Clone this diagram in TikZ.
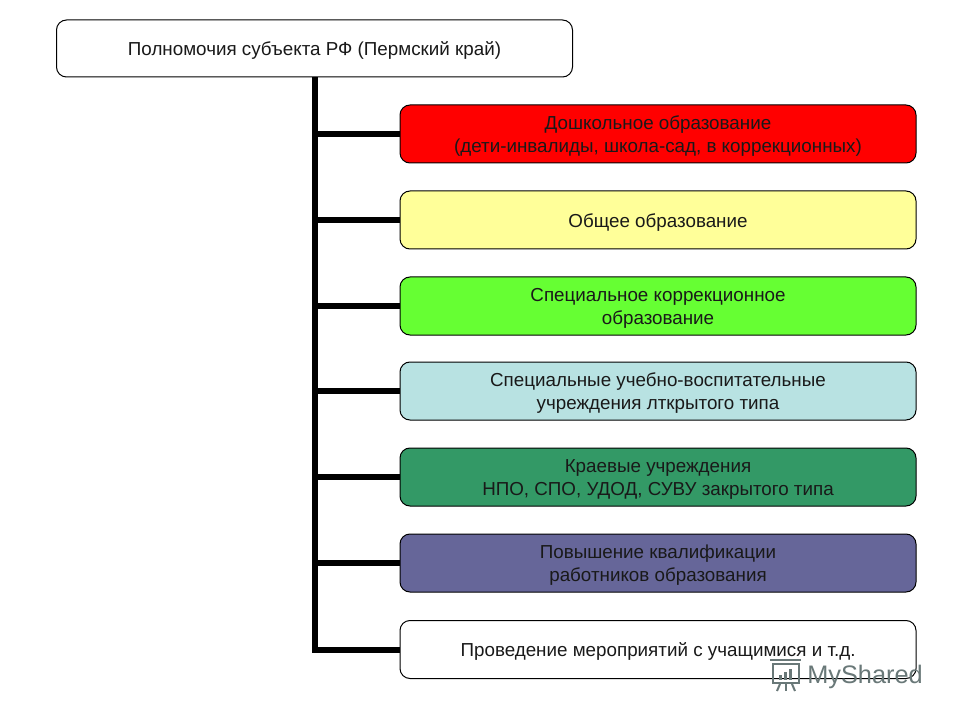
\documentclass[tikz,border=0pt]{standalone}
\usepackage{fontspec}
\setmainfont{Liberation Sans}
\definecolor{cred}{RGB}{255,0,0}
\definecolor{cyellow}{RGB}{255,255,153}
\definecolor{cgreen}{RGB}{102,255,51}
\definecolor{cteal}{RGB}{184,226,226}
\definecolor{cdkgreen}{RGB}{51,153,102}
\definecolor{cpurple}{RGB}{102,102,153}
\definecolor{cwm}{RGB}{105,120,120}
\newcommand\topstrut{\rule{0pt}{14pt}}
\newcommand\botstrut{\rule[-3pt]{0pt}{3pt}}
\tikzset{
  x=0.75pt,y=-0.75pt,
  orgbox/.style={draw=black,line width=0.75pt,rounded corners=7.5pt,minimum width=387pt,minimum height=43.5pt,
    inner sep=0pt,align=center,font=\fontsize{14.1}{17.25}\selectfont,text=black!90,anchor=center},
  link/.style={line width=4.5pt,draw=black}
}
\begin{document}
\begin{tikzpicture}
\useasboundingbox (0,0) rectangle (960,720);
\fill[white] (0,0) rectangle (960,720);
\node[orgbox,minimum width=387pt,minimum height=42.75pt] (root) at (314.5,48.5) {\topstrut Полномочия субъекта РФ (Пермский край)\botstrut};
\node[orgbox,fill=cred] (b1) at (658,134) {\topstrut Дошкольное образование\\(дети-инвалиды, школа-сад, в коррекционных)\botstrut};
\node[orgbox,fill=cyellow] (b2) at (658,220) {\topstrut Общее образование\botstrut};
\node[orgbox,fill=cgreen] (b3) at (658,306) {\topstrut Специальное коррекционное\\образование\botstrut};
\node[orgbox,fill=cteal] (b4) at (658,391) {\topstrut Специальные учебно-воспитательные\\учреждения лткрытого типа\botstrut};
\node[orgbox,fill=cdkgreen] (b5) at (658,477) {\topstrut Краевые учреждения\\НПО, СПО, УДОД, СУВУ закрытого типа\botstrut};
\node[orgbox,fill=cpurple] (b6) at (658,563) {\topstrut Повышение квалификации\\ работников образования\botstrut};
\node[orgbox,fill=white] (b7) at (658,649.5) {\topstrut Проведение мероприятий с учащимися и т.д.\botstrut};
\foreach \n in {b1,b2,b3,b4,b5,b6,b7}{
  \draw[link] (root.south) |- (\n.west);
}
% watermark
\node[anchor=base west,inner sep=0pt,text=cwm,font=\fontsize{19}{20}\selectfont] (wm) at (807,683) {MyShared};
\begin{scope}[cwm,line width=1.5pt]
\draw (773,664) -- (799,664) -- (799,683) -- (773,683) -- cycle;
\draw (770,660) -- (801,660);
\fill (779,680) rectangle (782,675);
\fill (784,680) rectangle (787,672);
\fill (789,680) rectangle (792,669);
\draw (780,684) -- (777,691);
\draw (786,684) -- (786,691);
\draw (792,684) -- (795,691);
\end{scope}
\end{tikzpicture}
\end{document}
